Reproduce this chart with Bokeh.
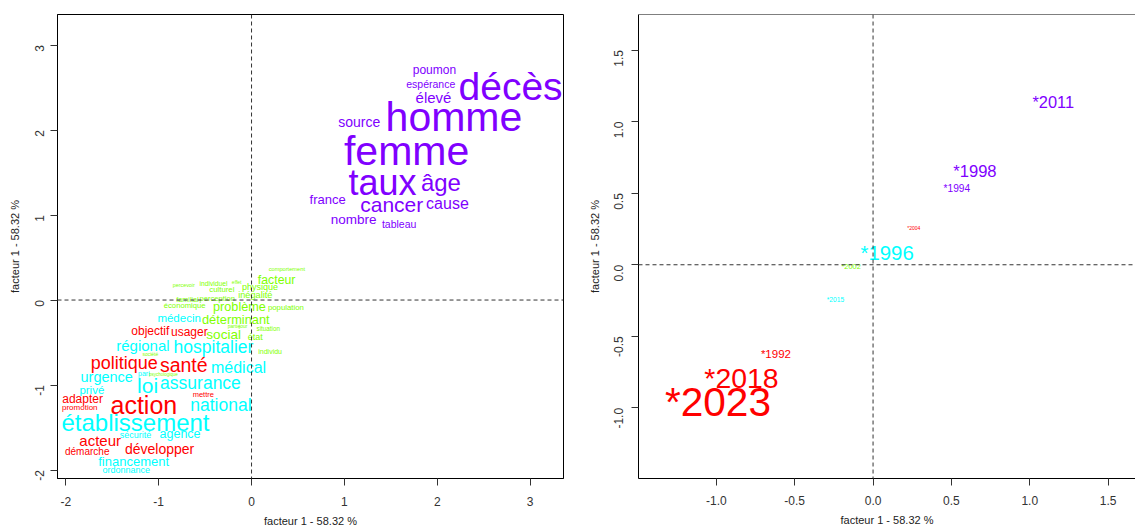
import math
from bokeh.plotting import figure
from bokeh.models import ColumnDataSource, Range1d, Span, FixedTicker, NumeralTickFormatter
from bokeh.layouts import row
from bokeh.embed import file_html
from bokeh.resources import INLINE
from bokeh.core.properties import value

# rainbow(4) classes
couleurs = ["#FF0000", "#80FF00", "#00FFFF", "#8000FF"]

# ---- left panel: words (coordinate on factor 1, both axes) ----
mots_violet = ["poumon", "espérance", "élevé", "décès", "source", "homme", "femme",
               "taux", "âge", "cancer", "cause", "france", "nombre", "tableau"]
x_violet = [1.97, 1.93, 1.96, 2.79, 1.16, 2.18, 1.67, 1.41, 2.04, 1.51, 2.11, 0.82, 1.10, 1.59]
y_violet = [2.71, 2.54, 2.38, 2.51, 2.10, 2.15, 1.75, 1.38, 1.38, 1.13, 1.14, 1.18, 0.95, 0.90]
poids_violet = [12, 10.5, 15, 39, 14, 41, 41, 36, 24, 21, 16, 13, 13.5, 10.5]

mots_rouge = ["objectif", "usager", "politique", "santé", "action", "adapter", "promotion",
              "mettre", "acteur", "développer", "démarche"]
x_rouge = [-1.09, -0.67, -1.37, -0.73, -1.16, -1.82, -1.85, -0.52, -1.63, -0.99, -1.77]
y_rouge = [-0.36, -0.38, -0.74, -0.77, -1.23, -1.17, -1.27, -1.11, -1.65, -1.75, -1.78]
poids_rouge = [12, 12, 18, 19.5, 25, 12, 8, 7.5, 15, 14, 10]

mots_cyan = ["médecin", "régional", "hospitalier", "médical", "urgence", "pari", "loi",
             "assurance", "privé", "national", "établissement", "sécurité", "agence",
             "financement", "ordonnance"]
x_cyan = [-0.78, -1.17, -0.41, -0.14, -1.56, -1.16, -1.12, -0.55, -1.72, -0.33, -1.25,
          -1.25, -0.77, -1.27, -1.35]
y_cyan = [-0.21, -0.53, -0.55, -0.79, -0.91, -0.86, -1.01, -0.98, -1.06, -1.23, -1.44,
          -1.59, -1.58, -1.90, -2.00]
poids_cyan = [11.5, 15, 17.5, 16, 14.5, 7, 21, 17.5, 11.5, 17.5, 24, 9, 12.5, 13, 9]

mots_vert = ["comportement", "facteur", "percevoir", "individuel", "effet", "culturel",
             "physique", "familial", "perception", "inégalité", "économique", "problème",
             "population", "déterminant", "partie", "jour", "situation", "social", "état",
             "individu", "société", "psychologique"]
x_vert = [0.38, 0.27, -0.73, -0.41, -0.16, -0.32, 0.09, -0.69, -0.37, 0.04, -0.72, -0.13,
          0.37, -0.17, -0.19, -0.09, 0.18, -0.30, 0.04, 0.20, -1.09, -0.95]
y_vert = [0.36, 0.23, 0.18, 0.19, 0.21, 0.12, 0.15, 0.01, 0.02, 0.06, -0.07, -0.08,
          -0.09, -0.23, -0.30, -0.30, -0.33, -0.41, -0.43, -0.60, -0.63, -0.88]
poids_vert = [5.7, 12.3, 5.4, 6.7, 5, 7.8, 9, 7.2, 7.6, 9.2, 7.7, 12.7, 7.8, 12.8, 5, 5,
              6.3, 13.6, 9, 7, 5, 4.5]

# ---- right panel: years ----
annees = ["*2011", "*1998", "*1994", "*2004", "*1996", "*2002", "*2015", "*1992", "*2018", "*2023"]
x_annees = [1.15, 0.65, 0.535, 0.26, 0.09, -0.14, -0.24, -0.62, -0.84, -0.99]
y_annees = [1.14, 0.65, 0.53, 0.26, 0.08, -0.01, -0.24, -0.62, -0.79, -0.96]
poids_annees = [16.4, 16.6, 10.2, 5, 20.4, 7.4, 6.7, 11.5, 28.4, 40.6]
classe_annees = [3, 3, 3, 0, 2, 1, 2, 0, 0, 0]

titre_axe = "facteur 1 - 58.32 %"
ticks_gauche = [-2, -1, 0, 1, 2, 3]
ticks_droite = [-1.0, -0.5, 0.0, 0.5, 1.0, 1.5]

FONT = "Liberation Sans"


def style(p, ticks, fmt, y_std, y_lab_std, x_std, x_lab_std):
    p.outline_line_color = "black"
    p.outline_line_width = 1
    p.xgrid.visible = False
    p.ygrid.visible = False
    for ax in (p.xaxis[0], p.yaxis[0]):
        ax.ticker = FixedTicker(ticks=ticks)
        ax.formatter = NumeralTickFormatter(format=fmt)
        ax.axis_label = titre_axe
        ax.axis_label_text_font = FONT
        ax.axis_label_text_font_style = "normal"
        ax.axis_label_text_font_size = "11px"
        ax.axis_label_text_color = "#222222"
        ax.major_label_text_font = FONT
        ax.major_label_text_font_size = "12px"
        ax.major_label_text_color = "#333333"
        ax.major_tick_in = 0
        ax.major_tick_out = 7
        ax.minor_tick_in = 0
        ax.minor_tick_out = 0
        ax.axis_line_color = "black"
        ax.major_tick_line_color = "#333333"
    p.xaxis[0].major_label_standoff = x_std
    p.xaxis[0].axis_label_standoff = x_lab_std
    p.yaxis[0].major_label_orientation = math.pi / 2
    p.yaxis[0].major_label_standoff = y_std
    p.yaxis[0].axis_label_standoff = y_lab_std
    p.add_layout(Span(location=0, dimension="width", line_color="#333333",
                      line_dash="4 3", line_width=1))
    p.add_layout(Span(location=0, dimension="height", line_color="#333333",
                      line_dash="4 3", line_width=1))


# left figure
p1 = figure(width=568, height=529, output_backend="svg", toolbar_location=None,
            x_range=Range1d(-2.09, 3.36), y_range=Range1d(-2.10, 3.36),
            min_border_left=57, min_border_right=5, min_border_top=14, min_border_bottom=49)
style(p1, ticks_gauche, "0", 11, 7, 11, 6)

mots = mots_rouge + mots_vert + mots_cyan + mots_violet
xs = x_rouge + x_vert + x_cyan + x_violet
ys = y_rouge + y_vert + y_cyan + y_violet
poids = poids_rouge + poids_vert + poids_cyan + poids_violet
cls = [0] * len(mots_rouge) + [1] * len(mots_vert) + [2] * len(mots_cyan) + [3] * len(mots_violet)
src1 = ColumnDataSource(dict(x=xs, y=ys, t=mots,
                             fs=["%.1fpx" % w for w in poids],
                             c=[couleurs[k] for k in cls]))
p1.text(x="x", y="y", text="t", source=src1, text_font=value(FONT),
        text_font_size="fs", text_color="c", text_align="center", text_baseline="middle")

# right figure (its right edge is cut by the window, as in the original)
y_haut = 1.748
p2 = figure(width=567, height=529, output_backend="svg", toolbar_location=None,
            x_range=Range1d(-1.497, 1.675), y_range=Range1d(-1.493, y_haut),
            min_border_left=70, min_border_right=0, min_border_top=8, min_border_bottom=48)
style(p2, ticks_droite, "0.0", 13, 6, 10, 6)
p2.outline_line_color = None
p2.add_layout(Span(location=y_haut, dimension="width", line_color="black", line_width=1))
src2 = ColumnDataSource(dict(x=x_annees, y=y_annees, t=annees,
                             fs=["%.1fpx" % w for w in poids_annees],
                             c=[couleurs[k] for k in classe_annees]))
p2.text(x="x", y="y", text="t", source=src2, text_font=value(FONT),
        text_font_size="fs", text_color="c", text_align="center", text_baseline="middle")

layout = row(p1, p2)
open("out.html", "w").write(file_html(layout, INLINE))
